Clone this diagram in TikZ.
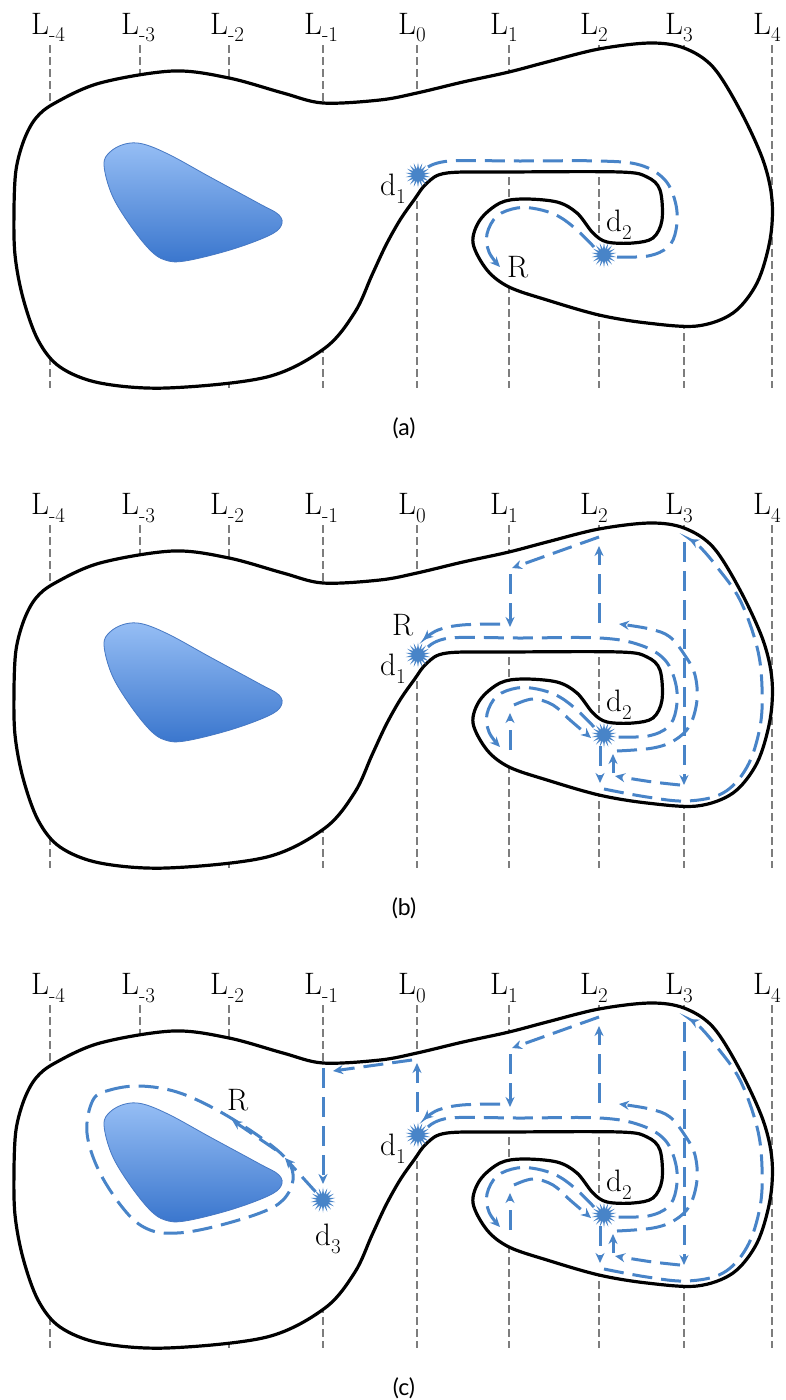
\documentclass[tikz,border=0pt]{standalone}
\usepackage{fontspec}
\newfontfamily\capfont{Lato}
\usetikzlibrary{shapes.geometric,arrows.meta}
\definecolor{flow}{RGB}{72,132,200}
\definecolor{guide}{RGB}{125,125,125}
\definecolor{blobtop}{RGB}{150,190,245}
\definecolor{blobbot}{RGB}{58,118,205}
\definecolor{blobedge}{RGB}{70,120,195}
\tikzset{
 guideline/.style={guide, line width=2.6pt, dash pattern=on 8pt off 4pt},
 outline/.style={black, line width=3.2pt, fill=white},
 flowline/.style={flow, line width=3pt, dash pattern=on 20pt off 9pt},
 flowarrow/.style={flowline, -{Stealth[length=10pt,width=9pt]}},
 burst/.style={star, star points=18, star point ratio=2.1, fill=flow, draw=none, minimum size=25pt, inner sep=0pt},
 lbl/.style={font=\fontsize{31}{34}\selectfont, inner sep=0pt, anchor=base west},
 captext/.style={font=\capfont\fontsize{23}{26}\selectfont, inner sep=0pt},
}
\newcommand\Lsub[1]{L\raisebox{-8pt}{\fontsize{21}{24}\selectfont #1}}
\newcommand\dsub[1]{d\raisebox{-8pt}{\fontsize{21}{24}\selectfont #1}}
\newcommand\basepanel[1]{%
 \foreach \xx/\nm/\sbs in {50/m4/-4,140/m3/-3,229/m2/-2,323/m1/-1,417/z0/0,509/p1/1,599/p2/2,684/p3/3,772/p4/4}{%
   \draw[guideline] (\xx,45) -- (\xx,388);
   \node[lbl] (#1L\nm) at (\xx-19,34) {\Lsub{\sbs}};
 }%
 \filldraw[outline] plot[smooth cycle, tension=0.55] coordinates {
  (55,103) (100,83) (173,71) (229,78) (283,93) (323,103) (380,100) (417,93)
  (463,82) (509,72) (547,62) (599,49) (650,43) (684,48) (713,67) (740,110)
  (763,160) (772,200) (770,240) (757,283) (733,313) (697,326) (647,323)
  (599,315) (547,300) (509,287) (487,270) (473,243) (480,220) (500,203)
  (523,199) (557,202) (577,213) (593,233) (607,242) (633,243) (653,238)
  (662,220) (660,190) (647,177) (620,172) (509,172) (447,173) (427,183)
  (414,200) (400,220) (386,245) (372,275) (355,312) (325,348) (267,377) (167,388)
  (100,383) (60,367) (38,340) (23,298) (15,255) (14,210) (16,170) (24,140) (36,118)};
 \shadedraw[top color=blobtop, bottom color=blobbot, draw=blobedge, line width=0.8pt]
  plot[smooth cycle, tension=0.6] coordinates {
  (104,165) (110,152) (125,144) (143,144) (170,155) (210,177) (258,203) (279,215)
  (281,226) (268,236) (230,250) (185,261) (165,260) (150,250) (130,225) (112,195)};
 \node[burst] (#1d1) at (418,175) {};
 \node[burst] (#1d2) at (604,255) {};
 \node[lbl] (#1d1l) at (380,195) {\dsub{1}};
 \node[lbl] (#1d2l) at (606,231) {\dsub{2}};
}
\newcommand\lobeflow{%
 \draw[flowarrow] plot[smooth, tension=0.6] coordinates {(594,247) (577,230) (558,216) (537,209) (517,208) (497,216) (487,234) (489,252) (500,267)};
}
\newcommand\foldflow[1]{%
 \draw[flowline] plot[smooth, tension=0.6] coordinates {(428,167) (450,#1) (520,#1) (600,#1) (640,165) (665,180) (676,205) (676,230) (668,247) (648,256) (617,257)};
}
\newcommand\flowsbc{%
 \foldflow{158}
 \lobeflow
 \draw[flowarrow] (510,270) -- (510,233);
 \draw[flowarrow] plot[smooth, tension=0.6] coordinates {(514,225) (533,219) (553,225) (570,240) (591,258)};
 \draw[flowarrow] (600,266) -- (600,303);
 \draw[flowarrow] plot[smooth, tension=0.6] coordinates {(604,309) (647,317) (687,321) (723,313) (747,287) (760,247) (762,207) (757,167) (740,120) (717,87) (700,67) (689,59)};
 \draw[flowarrow] (684,62) -- (684,305);
 \draw[flowarrow] plot[smooth, tension=0.6] coordinates {(680,305) (653,302) (627,298) (615,296)};
 \draw[flowarrow] (613,293) -- (613,274);
 \draw[flowarrow] plot[smooth, tension=0.6] coordinates {(617,271) (653,268) (675,260) (690,245) (697,220) (695,195) (686,177) (670,157) (650,149) (619,144)};
 \draw[flowarrow] (599,143) -- (599,66);
 \draw[flowarrow] (599,57) -- (512,88);
 \draw[flowarrow] (510,94) -- (510,147);
 \draw[flowarrow] plot[smooth, tension=0.6] coordinates {(500,144) (462,145) (438,150) (423,160)};
}
\begin{document}
\begin{tikzpicture}[x=1pt,y=-1pt]
\useasboundingbox (0,0) rectangle (785,1400);
% panel (a)
\begin{scope}
 \basepanel{a}
 \foldflow{161}
 \lobeflow
 \node[lbl] (aR) at (507,277) {R};
\end{scope}
% panel (b)
\begin{scope}[shift={(0,480)}]
 \basepanel{b}
 \flowsbc
 \node[lbl] (bR) at (392,155) {R};
\end{scope}
% panel (c)
\begin{scope}[shift={(0,960)}]
 \basepanel{c}
 \flowsbc
 \draw[flowarrow] (417,152) -- (417,103);
 \draw[flowarrow] (412,100) -- (333,111);
 \draw[flowarrow] (323,108) -- (323,224);
 \draw[flowline] plot[smooth cycle, tension=0.6] coordinates {(93,140) (110,130) (140,126) (177,132) (217,150) (260,177) (287,200) (293,220) (283,240) (260,253) (213,267) (177,273) (150,270) (127,253) (100,213) (87,173)};
 \node[burst] (cd3) at (323,240) {};
 \node[lbl] (cd3l) at (315,285) {\dsub{3}};
 \draw[flowarrow] (cd3) -- (285,198);
 \draw[flowarrow] (276,190) -- (232,160);
 \node[lbl] (cR) at (227,150) {R};
\end{scope}
\node[captext] (capa) at (404,428) {(a)};
\node[captext] (capb) at (404,908) {(b)};
\node[captext] (capc) at (404,1388) {(c)};
\end{tikzpicture}
\end{document}
